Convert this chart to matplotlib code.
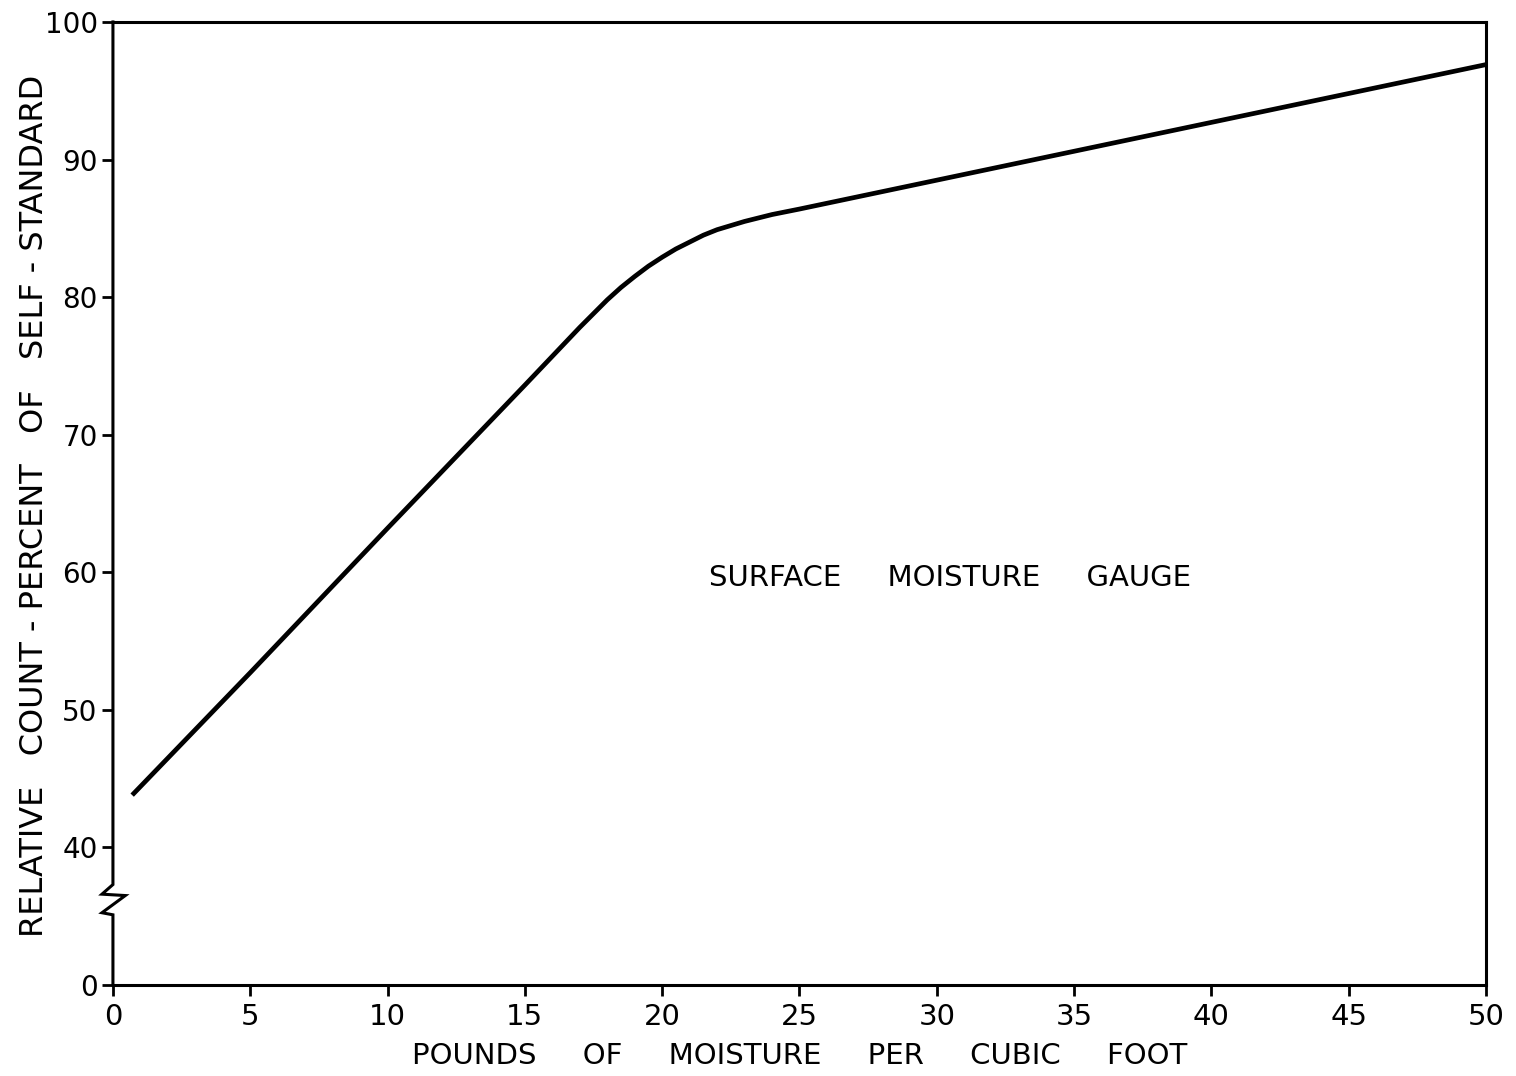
import matplotlib
matplotlib.use("Agg")
import matplotlib.pyplot as plt

# Data
moisture = [0.7, 5, 10, 15, 17, 18, 18.5, 19, 19.5, 20, 20.5, 21, 21.5, 22, 22.5, 23, 24, 25,
            30, 35, 40, 45, 50]
rel_count = [43.8, 52.7, 63.2, 73.6, 77.8, 79.8, 80.7, 81.5, 82.25, 82.9, 83.5, 84.0, 84.5, 84.9,
             85.2, 85.5, 86.0, 86.4, 88.5, 90.6, 92.7, 94.8, 96.9]

x_ticks = [0, 5, 10, 15, 20, 25, 30, 35, 40, 45, 50]
y_ticks = [30, 40, 50, 60, 70, 80, 90, 100]
y_tick_labels = ["0", "40", "50", "60", "70", "80", "90", "100"]

plt.rcParams['font.family'] = ['DejaVu Sans']

fig = plt.figure(figsize=(15.16, 10.76), dpi=100)
ax = fig.add_axes([0.0745, 0.0846, 0.9057, 0.895])

ax.plot(moisture, rel_count, color='black', lw=3.4, solid_capstyle='butt', solid_joinstyle='round')

ax.set_xlim(0, 50)
ax.set_ylim(30, 100)
ax.set_xticks(x_ticks)
ax.set_xticklabels([str(t) for t in x_ticks])
ax.set_yticks(y_ticks)
ax.set_yticklabels(y_tick_labels)
ax.tick_params(axis='both', direction='out', length=8, width=2, colors='black')
ax.tick_params(axis='x', pad=5, labelsize=21)
ax.tick_params(axis='y', pad=3, labelsize=20)

for s in ['top', 'right', 'bottom']:
    ax.spines[s].set_linewidth(2.2)
ax.spines['left'].set_visible(False)

# left spine with axis break zigzag
tr = ax.get_yaxis_transform()
bx = [0, 0, -0.008, 0.009, -0.008, 0, 0]
by = [100, 37.3, 36.6, 36.5, 35.25, 35.1, 30]
ax.plot(bx, by, color='black', lw=2.2, transform=tr, clip_on=False, solid_joinstyle='miter')

ax.set_xlabel("POUNDS     OF     MOISTURE     PER     CUBIC     FOOT", fontsize=21, labelpad=8)
ax.set_ylabel("RELATIVE   COUNT - PERCENT   OF   SELF - STANDARD", fontsize=23)
ax.yaxis.set_label_coords(-0.046, 0.497)

ax.text(30.5, 59.6, "SURFACE     MOISTURE     GAUGE", fontsize=21, ha='center', va='center')

fig.savefig("out.png", dpi=100)
